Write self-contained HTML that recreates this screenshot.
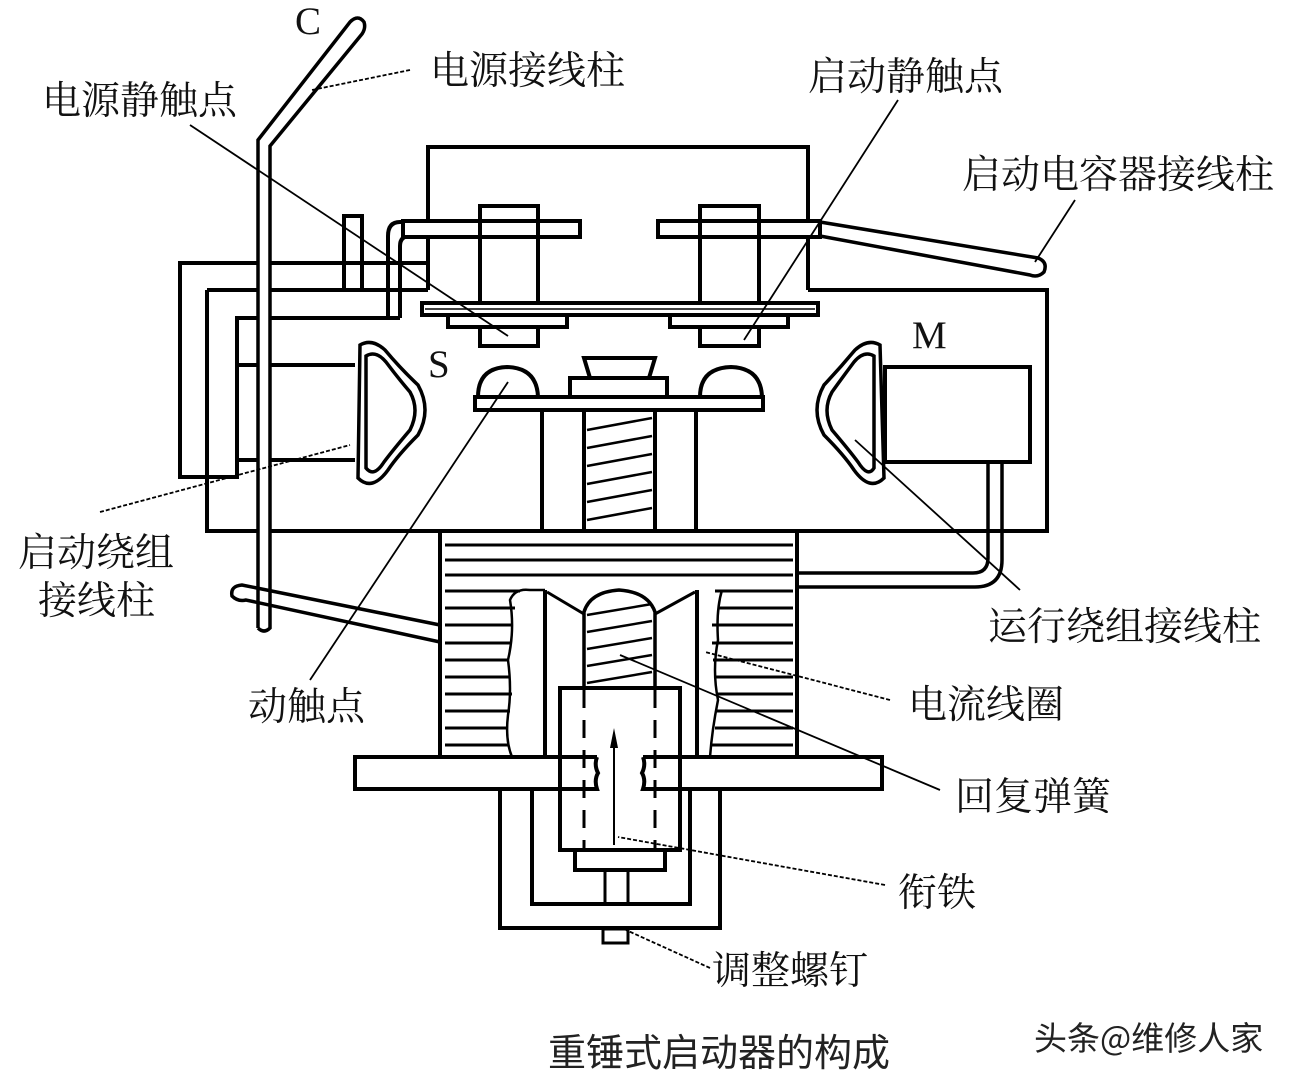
<!DOCTYPE html>
<html><head><meta charset="utf-8"><style>
html,body{margin:0;padding:0;background:#fff}
svg{display:block}
.t{font-family:"Liberation Serif","Noto Serif CJK SC","Noto Sans CJK SC",serif;font-size:39px;fill:#111}
</style></head><body>
<svg width="1300" height="1084" viewBox="0 0 1300 1084" xmlns="http://www.w3.org/2000/svg">
<g fill="none" stroke="#000" stroke-width="4" stroke-linejoin="miter">
<polyline points="428,290 428,147 808,147 808,290"/>
<polyline points="207,290 428,290"/>
<polyline points="808,290 1047,290 1047,531 207,531 207,290"/>
<polyline points="428,263 180,263 180,477 237,477 237,318 400,318"/>
<polyline points="237,365 355,365"/>
<polyline points="237,460 355,460"/>
<polyline points="344,290 344,216 362,216 362,290"/>
<path d="M420,222 L400,222 Q388,222 388,236 L388,318"/>
<path d="M420,236 L410,236 Q400,236 400,246 L400,318"/>
<rect x="403" y="221" width="177" height="16" fill="#fff"/>
<rect x="658" y="221" width="162" height="16" fill="#fff"/>
<rect x="480" y="206" width="58" height="140" fill="none"/>
<rect x="700" y="206" width="59" height="140" fill="none"/>
<rect x="422" y="303" width="396" height="12" fill="#fff"/>
<line x1="425" y1="309" x2="815" y2="309" stroke-width="1.5"/>
<rect x="448" y="315" width="119" height="12" fill="#fff"/>
<rect x="670" y="315" width="118" height="12" fill="#fff"/>
<rect x="480" y="327" width="58" height="19" fill="#fff"/>
<rect x="700" y="327" width="59" height="19" fill="#fff"/>
<path d="M478,397 Q478,368 507,367 Q537,368 538,397" fill="#fff"/>
<path d="M700,397 Q700,368 731,367 Q761,368 762,397" fill="#fff"/>
<rect x="475" y="397" width="288" height="13" fill="#fff"/>
<rect x="570" y="378" width="97" height="19" fill="#fff"/>
<path d="M584,358 L655,358 L649,378 L590,378 Z" fill="#fff"/>
<line x1="542" y1="410" x2="542" y2="531"/>
<line x1="696" y1="410" x2="696" y2="531"/>
<line x1="584" y1="410" x2="584" y2="531"/>
<line x1="655" y1="410" x2="655" y2="531"/>
<path d="M360,345 Q372,338 385,350 Q400,368 418,385 Q432,410 418,435 Q398,455 388,470 Q372,492 358,478 Z" stroke-width="3.5"/>
<path d="M366,356 Q376,350 386,362 Q398,378 410,392 Q420,410 410,430 Q393,450 384,462 Q374,478 366,468 Z" stroke-width="3.5"/>
<path d="M880,345 Q868,338 855,350 Q840,368 824,385 Q810,410 824,435 Q844,455 854,470 Q870,492 884,478 Z" stroke-width="3.5"/>
<path d="M874,356 Q864,350 854,362 Q842,378 832,392 Q822,410 832,430 Q849,450 858,462 Q868,478 874,468 Z" stroke-width="3.5"/>
<rect x="885" y="367" width="145" height="95"/>
<path d="M988,462 L988,558 Q988,573 973,573 L797,573" stroke-width="3.5"/>
<path d="M1002,462 L1002,560 Q1002,587 975,587 L797,587" stroke-width="3.5"/>
<path d="M820,222 L1038,258 Q1048,262 1044,272 Q1038,278 1030,275 L820,236" stroke-width="3.5"/>
<path d="M258,628 L258,140 L350,22 Q358,14 364,22 Q366,28 362,34 L270,146 L270,628 Q264,634 258,628" stroke-width="3.5" fill="#fff"/>
<path d="M440,625 L242,585 Q230,586 232,596 Q238,602 246,600 L440,642" stroke-width="3.5"/>
<line x1="440" y1="531" x2="440" y2="757"/>
<line x1="797" y1="531" x2="797" y2="757"/>
</g>
<g stroke="#000" stroke-width="3">
<line x1="445" y1="545" x2="793" y2="545"/>
<line x1="445" y1="560" x2="793" y2="560"/>
<line x1="445" y1="575" x2="793" y2="575"/>
<line x1="445" y1="591" x2="520" y2="591"/><line x1="715" y1="591" x2="793" y2="591"/>
<line x1="445" y1="608" x2="515" y2="608"/><line x1="718" y1="608" x2="793" y2="608"/>
<line x1="445" y1="625" x2="512" y2="625"/><line x1="712" y1="625" x2="793" y2="625"/>
<line x1="445" y1="643" x2="510" y2="643"/><line x1="712" y1="643" x2="793" y2="643"/>
<line x1="445" y1="660" x2="508" y2="660"/><line x1="713" y1="660" x2="793" y2="660"/>
<line x1="445" y1="677" x2="510" y2="677"/><line x1="716" y1="677" x2="793" y2="677"/>
<line x1="445" y1="694" x2="512" y2="694"/><line x1="716" y1="694" x2="793" y2="694"/>
<line x1="445" y1="711" x2="510" y2="711"/><line x1="716" y1="711" x2="793" y2="711"/>
<line x1="445" y1="728" x2="508" y2="728"/><line x1="715" y1="728" x2="793" y2="728"/>
<line x1="445" y1="745" x2="508" y2="745"/><line x1="712" y1="745" x2="793" y2="745"/>
</g>
<g fill="none" stroke="#000" stroke-width="4">
<path d="M512,757 Q505,740 508,715 Q512,690 508,660 Q515,630 510,600 Q515,588 530,590 L545,590" stroke-width="2.5"/>
<path d="M722,590 Q716,610 718,640 Q712,670 718,700 Q712,730 710,757" stroke-width="2.5"/>
<line x1="545" y1="590" x2="545" y2="757" stroke-width="4"/>
<line x1="697" y1="590" x2="697" y2="757" stroke-width="4"/>
<line x1="547" y1="592" x2="584" y2="614" stroke-width="3"/>
<line x1="695" y1="592" x2="655" y2="614" stroke-width="3"/>
<path d="M584,688 L584,612 Q590,592 619,590 Q648,592 655,612 L655,688" stroke-width="3.5"/>
<g stroke-width="2.5">
<line x1="587" y1="615" x2="652" y2="604"/><line x1="587" y1="632" x2="652" y2="621"/>
<line x1="587" y1="649" x2="652" y2="638"/><line x1="587" y1="666" x2="652" y2="655"/>
<line x1="587" y1="683" x2="652" y2="672"/>
</g>
<g stroke-width="2.5">
<line x1="587" y1="430" x2="652" y2="418"/><line x1="587" y1="448" x2="652" y2="436"/>
<line x1="587" y1="466" x2="652" y2="454"/><line x1="587" y1="484" x2="652" y2="472"/>
<line x1="587" y1="502" x2="652" y2="490"/><line x1="587" y1="520" x2="652" y2="508"/>
</g>
<path d="M597,757 L355,757 L355,789 L597,789 Q594,780 598,773 Q594,765 597,757" fill="#fff"/>
<path d="M643,757 L882,757 L882,789 L643,789 Q646,780 642,773 Q646,765 643,757" fill="#fff"/>
<polyline points="500,789 500,928 720,928 720,789"/>
<polyline points="532,789 532,904 690,904 690,789"/>
<rect x="560" y="688" width="120" height="162"/>
<rect x="575" y="850" width="90" height="20"/>
<line x1="605" y1="870" x2="605" y2="904" stroke-width="3"/>
<line x1="628" y1="870" x2="628" y2="904" stroke-width="3"/>
<rect x="603" y="929" width="25" height="14" stroke-width="3"/>
<line x1="584" y1="690" x2="584" y2="848" stroke-dasharray="18,12" stroke-width="3"/>
<line x1="655" y1="690" x2="655" y2="848" stroke-dasharray="18,12" stroke-width="3"/>
</g>
<line x1="614" y1="745" x2="614" y2="845" stroke="#000" stroke-width="2"/>
<path d="M614,728 L610,748 L618,748 Z" fill="#000"/>
<g stroke="#000" stroke-width="1.8" fill="none">
<line x1="410" y1="70" x2="312" y2="90" stroke-dasharray="4,2"/>
<line x1="190" y1="125" x2="508" y2="336"/>
<line x1="898" y1="100" x2="744" y2="340"/>
<line x1="1075" y1="200" x2="1035" y2="262"/>
<line x1="100" y1="512" x2="350" y2="445" stroke-dasharray="4,2"/>
<line x1="310" y1="680" x2="508" y2="382"/>
<line x1="1020" y1="590" x2="855" y2="440"/>
<line x1="890" y1="700" x2="705" y2="652" stroke-dasharray="4,2"/>
<line x1="940" y1="790" x2="620" y2="655"/>
<line x1="885" y1="885" x2="618" y2="837" stroke-dasharray="4,2"/>
<line x1="710" y1="968" x2="626" y2="930" stroke-dasharray="4,2"/>
</g>
<text class="t" x="295" y="34" font-size="30">C</text>
<text class="t" x="430" y="84">电源接线柱</text>
<text class="t" x="42" y="114">电源静触点</text>
<text class="t" x="808" y="90">启动静触点</text>
<text class="t" x="962" y="188">启动电容器接线柱</text>
<text class="t" x="428" y="377" font-size="32">S</text>
<text class="t" x="912" y="348" font-size="32">M</text>
<text class="t" x="18" y="566">启动绕组</text>
<text class="t" x="38" y="614">接线柱</text>
<text class="t" x="988" y="640">运行绕组接线柱</text>
<text class="t" x="248" y="720">动触点</text>
<text class="t" x="908" y="718">电流线圈</text>
<text class="t" x="955" y="810">回复弹簧</text>
<text class="t" x="898" y="906">衔铁</text>
<text class="t" x="712" y="984">调整螺钉</text>
<text x="548" y="1066" style="font-family:'Noto Sans CJK SC',sans-serif;font-size:38px;fill:#222">重锤式启动器的构成</text>
<text x="1034" y="1050" style="font-family:'Noto Sans CJK SC',sans-serif;font-size:33px;fill:#222">头条@维修人家</text>
</svg>
</body></html>
